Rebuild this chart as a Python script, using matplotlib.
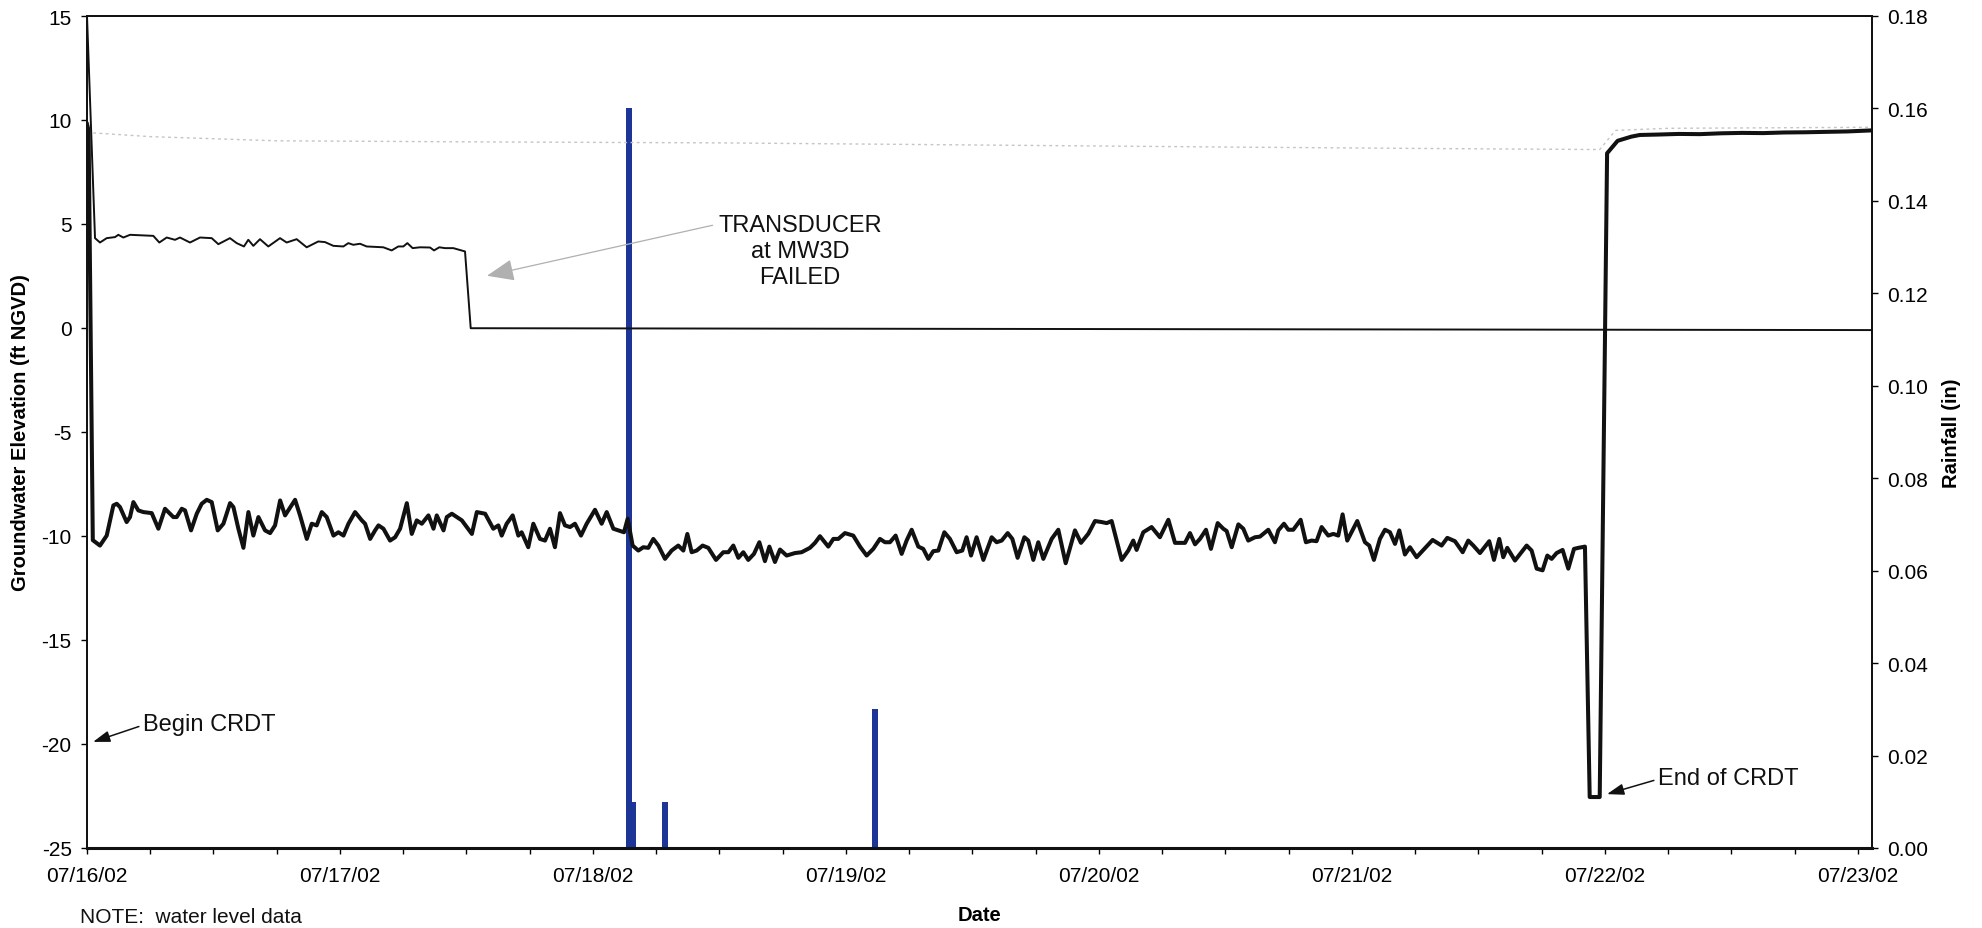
import matplotlib
matplotlib.use("Agg")
import matplotlib.pyplot as plt
import matplotlib.dates as mdates
import matplotlib.ticker as mticker
import pandas as pd

plt.rcParams['font.family'] = ['Liberation Sans', 'DejaVu Sans']
plt.rcParams['axes.unicode_minus'] = False

START = pd.Timestamp('2002-07-16 00:00')
END_HOURS = 169.33

# Pumping well water level (ft NGVD), hours since start
well_hours = [
    0.00, 0.15, 0.55, 1.23, 1.87, 2.50, 2.82, 3.13, 3.76, 4.08, 4.40, 4.87, 5.35, 6.14, 6.77,
    7.40, 8.19, 8.51, 8.99, 9.30, 9.87, 10.41, 10.88, 11.36, 11.83, 12.40, 12.94, 13.57, 13.89,
    14.36, 14.84, 15.31, 15.78, 16.26, 16.89, 17.37, 17.84, 18.32, 18.79, 19.74, 20.21, 20.85,
    21.32, 21.79, 22.27, 22.74, 23.38, 23.85, 24.33, 24.80, 25.43, 26.07, 26.38, 26.86, 27.33,
    27.65, 28.12, 28.75, 29.23, 29.70, 30.34, 30.81, 31.28, 31.76, 32.39, 32.87, 33.18, 33.82,
    34.13, 34.61, 35.56, 36.51, 36.98, 37.77,
    38.54, 39.02, 39.34, 39.81, 40.38, 40.92, 41.23, 41.86, 42.34, 42.97, 43.45, 43.92, 44.39,
    44.87, 45.34, 45.82, 46.29, 46.86, 47.40, 48.19, 48.82, 49.30, 49.93, 50.40, 50.94, 51.29,
    51.76, 52.30, 52.77, 53.25, 53.72, 54.20, 54.83, 55.46, 56.09, 56.57, 56.95, 57.36, 57.83,
    58.40, 58.94, 59.67, 60.36, 60.84, 61.31, 61.79, 62.26, 62.73, 63.27, 63.78, 64.31, 64.73,
    65.26, 65.74, 66.37, 67.16, 67.79, 68.58, 69.06, 69.53, 70.32, 70.80, 71.27, 71.90, 72.69,
    73.33, 73.96, 74.59,
    75.22, 75.70, 76.17, 76.71, 77.28, 77.75, 78.23, 78.86, 79.33, 79.81, 80.28, 80.76, 81.33,
    81.86, 82.50, 83.03, 83.44, 83.86, 84.39, 85.03, 85.82, 86.29, 86.77, 87.34, 87.78, 88.28,
    88.92, 89.29, 89.77, 90.24, 90.72, 91.51, 92.14, 92.84, 93.72, 94.29, 94.99, 95.62, 96.25,
    96.73, 97.20, 98.15, 98.78, 99.25, 99.57, 100.20, 100.99, 101.78, 102.58, 103.21, 104.16,
    104.63, 105.11, 105.58, 106.15, 106.62, 107.26, 107.79, 108.11, 108.59, 109.22, 109.69,
    110.16, 110.80, 111.27, 112.06, 112.69,
    113.01, 113.55, 113.96, 114.43, 115.13, 115.63, 116.17, 116.64, 117.12, 117.75, 118.23,
    118.70, 119.11, 119.55, 120.50, 121.23, 121.64, 122.08, 122.65, 123.13, 123.60, 124.08,
    124.49, 125.02, 125.50, 126.13, 126.77, 127.65, 128.50, 129.04, 129.77, 130.50, 131.03,
    131.51, 132.14, 133.02, 133.47, 133.97, 134.35, 134.73, 135.46, 136.57, 137.04, 137.52,
    138.08, 138.53, 138.94, 139.41, 139.98, 140.52, 141.06, 141.47, 142.10,
    142.55, 143.50, 144.20, 145.20, 146.50, 147.30, 149.00, 151.00, 153.00, 155.00, 157.00,
    159.00, 161.00, 163.00, 165.00, 167.00, 169.30,
]
well_level = [
    9.80, 9.50, -10.20, -10.46, -9.98, -8.53, -8.45, -8.61, -9.33, -9.09, -8.37, -8.77, -8.85,
    -8.90, -9.65, -8.69, -9.09, -9.09, -8.69, -8.77, -9.73, -8.93, -8.45, -8.26, -8.37, -9.73,
    -9.41, -8.42, -8.61, -9.65, -10.57, -8.85, -9.98, -9.09, -9.73, -9.86, -9.49, -8.29, -9.01,
    -8.26, -9.01, -10.14, -9.41, -9.49, -8.85, -9.09, -9.98, -9.82, -9.98, -9.41, -8.85, -9.25,
    -9.41, -10.14, -9.73, -9.49, -9.65, -10.22, -10.06, -9.65, -8.42, -9.90, -9.25, -9.41,
    -9.01, -9.65, -9.01, -9.73, -9.09, -8.93, -9.25, -9.90, -8.85, -8.93,
    -9.65, -9.49, -9.98, -9.41, -9.01, -9.98, -9.82, -10.54, -9.41, -10.14, -10.22, -9.65,
    -10.54, -8.90, -9.49, -9.57, -9.41, -9.98, -9.41, -8.74, -9.41, -8.85, -9.65, -9.73,
    -9.82, -9.17, -10.46, -10.70, -10.54, -10.57, -10.14, -10.46, -11.10, -10.70, -10.46,
    -10.70, -9.90, -10.78, -10.70, -10.46, -10.57, -11.15, -10.78, -10.78, -10.46, -11.05,
    -10.78, -11.15, -10.86, -10.30, -11.21, -10.51, -11.25, -10.65, -10.94, -10.82, -10.78,
    -10.57, -10.33, -10.01, -10.51, -10.14, -10.14, -9.86, -9.98, -10.51, -10.94, -10.62,
    -10.14, -10.30, -10.30, -9.98, -10.86, -10.22, -9.70, -10.51, -10.62, -11.10, -10.73,
    -10.70, -9.82, -10.14, -10.78, -10.70, -10.06, -10.94, -10.06, -11.15, -10.06, -10.30,
    -10.22, -9.86, -10.14, -11.05, -10.06, -10.22, -11.15, -10.30, -11.10, -10.14, -9.70,
    -11.31, -9.73, -10.33, -9.89, -9.28, -9.33, -9.38, -9.28, -11.15, -10.70, -10.22, -10.67,
    -9.82, -9.57, -10.06, -9.22, -10.33, -10.33, -9.86, -10.40, -10.14, -9.70, -10.62, -9.38,
    -9.65, -9.76, -10.54, -9.44, -9.65, -10.22, -10.06, -10.03, -9.70, -10.30,
    -9.73, -9.41, -9.70, -9.70, -9.22, -10.30, -10.22, -10.25, -9.57, -9.98, -9.90, -9.98,
    -8.96, -10.22, -9.28, -10.30, -10.46, -11.15, -10.14, -9.70, -9.82, -10.38, -9.73, -10.89,
    -10.54, -11.02, -10.67, -10.19, -10.46, -10.09, -10.25, -10.78, -10.22, -10.46, -10.82,
    -10.25, -11.15, -10.14, -11.02, -10.57, -11.18, -10.46, -10.70, -11.57, -11.65, -10.94,
    -11.10, -10.82, -10.67, -11.57, -10.62, -10.57, -10.51,
    -22.55, -22.55, 8.40, 9.00, 9.20, 9.28, 9.30, 9.33, 9.32, 9.36, 9.38, 9.37, 9.40, 9.41,
    9.43, 9.45, 9.50,
]

# MW3D transducer level (ft NGVD)
mw3d_hours = [
    0.00, 0.76, 1.23, 1.87, 2.66, 2.97, 3.45, 4.08, 6.29, 6.86, 7.56, 8.35, 8.82, 9.77, 10.72,
    11.83, 12.46, 13.56, 14.20, 14.89, 15.30, 15.78, 16.41, 17.20, 18.31, 18.94, 19.89, 20.84,
    21.94, 22.58, 23.37, 24.32, 24.79, 25.26, 25.90, 26.53, 28.11, 28.90, 29.53, 30.01, 30.39,
    30.89, 31.59, 32.54, 32.92, 33.42, 33.96, 34.75, 35.86, 36.40, 169.30,
]
mw3d_level = [
    15.00, 4.32, 4.11, 4.32, 4.37, 4.48, 4.35, 4.48, 4.43, 4.11, 4.35, 4.24, 4.35, 4.11, 4.35,
    4.32, 4.03, 4.32, 4.08, 3.92, 4.24, 3.95, 4.27, 3.92, 4.32, 4.11, 4.27, 3.88, 4.16, 4.13,
    3.95, 3.92, 4.08, 4.00, 4.05, 3.92, 3.88, 3.73, 3.92, 3.92, 4.08, 3.84, 3.88, 3.87, 3.73,
    3.88, 3.84, 3.84, 3.68, -0.01, -0.10,
]

# Background well level (ft NGVD), faint dotted trace
bg_hours = [0.0, 6.0, 18.0, 36.0, 60.0, 84.0, 108.0, 130.0, 143.5, 145.0, 150.0, 169.3]
bg_level = [9.40, 9.20, 9.00, 8.95, 8.90, 8.80, 8.70, 8.62, 8.58, 9.50, 9.60, 9.65]

# Rainfall (in)
rain_hours = [51.79, 51.43, 54.80, 74.78]
rain_inches = [0.01, 0.16, 0.01, 0.03]


def to_time(hours):
    return START + pd.to_timedelta(hours, unit='h')


W, H = 1982, 929
fig = plt.figure(figsize=(W / 100, H / 100), dpi=100)
ax = fig.add_axes([87 / W, 1 - 849 / H, (1872 - 87) / W, (849 - 17) / H])
ax2 = ax.twinx()

# rainfall bars on the secondary axis, drawn beneath the water-level lines
ax2.bar(to_time(rain_hours), rain_inches, width=0.57 / 24, color='#1d3597',
        edgecolor='none', align='center')
ax2.set_ylim(0, 0.18)
ax2.yaxis.set_major_locator(mticker.MultipleLocator(0.02))
ax2.yaxis.set_major_formatter(mticker.FormatStrFormatter('%.2f'))

ax.set_zorder(ax2.get_zorder() + 1)
ax.patch.set_visible(False)

ax.plot(to_time(bg_hours), bg_level, color='#c4c4c4', lw=1.0, ls=(0, (2, 2.5)))
ax.plot(to_time(mw3d_hours), mw3d_level, color='#111111', lw=1.4)
ax.plot(to_time(well_hours), well_level, color='#111111', lw=2.9, solid_joinstyle='round')

ax.set_xlim(START, to_time(END_HOURS))
ax.set_ylim(-25, 15)
ax.yaxis.set_major_locator(mticker.MultipleLocator(5))
ax.xaxis.set_major_locator(mdates.DayLocator())
ax.xaxis.set_minor_locator(mdates.HourLocator(byhour=[6, 12, 18]))
ax.xaxis.set_major_formatter(mdates.DateFormatter('%m/%d/%y'))

for a in (ax, ax2):
    for s in a.spines.values():
        s.set_linewidth(1.3)
        s.set_color('#111111')
ax.spines['bottom'].set_linewidth(2.2)

ax.tick_params(axis='x', which='both', direction='out', length=4, width=1, labelsize=15, pad=9)
ax.tick_params(axis='y', direction='out', length=4, width=1, labelsize=15, pad=7)
ax2.tick_params(axis='y', direction='out', length=4, width=1, labelsize=15, pad=7)

ax.set_ylabel('Groundwater Elevation (ft NGVD)', fontsize=14.5, fontweight='bold')
ax2.set_ylabel('Rainfall (in)', fontsize=14.5, fontweight='bold')
ax.set_xlabel('Date', fontsize=14.5, fontweight='bold')
ax.yaxis.set_label_coords(-0.037, 0.5)
ax2.yaxis.set_label_coords(1.0448, 0.5)
ax.xaxis.set_label_coords(0.5, -0.0805)
for lab in (ax.yaxis.label, ax2.yaxis.label, ax.xaxis.label):
    lab.set_verticalalignment('center')
    lab.set_horizontalalignment('center')

ax.annotate('TRANSDUCER\nat MW3D\nFAILED', xy=(to_time(37.94), 2.51),
            xytext=(to_time(67.63), 3.71), ha='center', va='center', fontsize=17,
            linespacing=1.25, color='#111111',
            arrowprops=dict(arrowstyle='-|>,head_length=1.0,head_width=0.4',
                            color='#b0b0b0', lw=0.9, relpos=(0.0, 0.86),
                            shrinkA=2, shrinkB=0))
ax.annotate('Begin CRDT', xy=(to_time(0.57), -19.9), xytext=(to_time(5.31), -19.04),
            ha='left', va='center', fontsize=17, color='#111111',
            arrowprops=dict(arrowstyle='-|>,head_length=0.6,head_width=0.2',
                            color='#111111', lw=1.1, relpos=(0.0, 0.45),
                            shrinkA=1, shrinkB=0))
ax.annotate('End of CRDT', xy=(to_time(144.19), -22.41), xytext=(to_time(149.03), -21.64),
            ha='left', va='center', fontsize=17, color='#111111',
            arrowprops=dict(arrowstyle='-|>,head_length=0.6,head_width=0.2',
                            color='#111111', lw=1.1, relpos=(0.0, 0.45),
                            shrinkA=1, shrinkB=0))

fig.text(80 / W, 2 / H, 'NOTE:  water level data', fontsize=15, va='bottom', ha='left',
         color='#111111')

fig.savefig('out.png', dpi=100, facecolor='white')
